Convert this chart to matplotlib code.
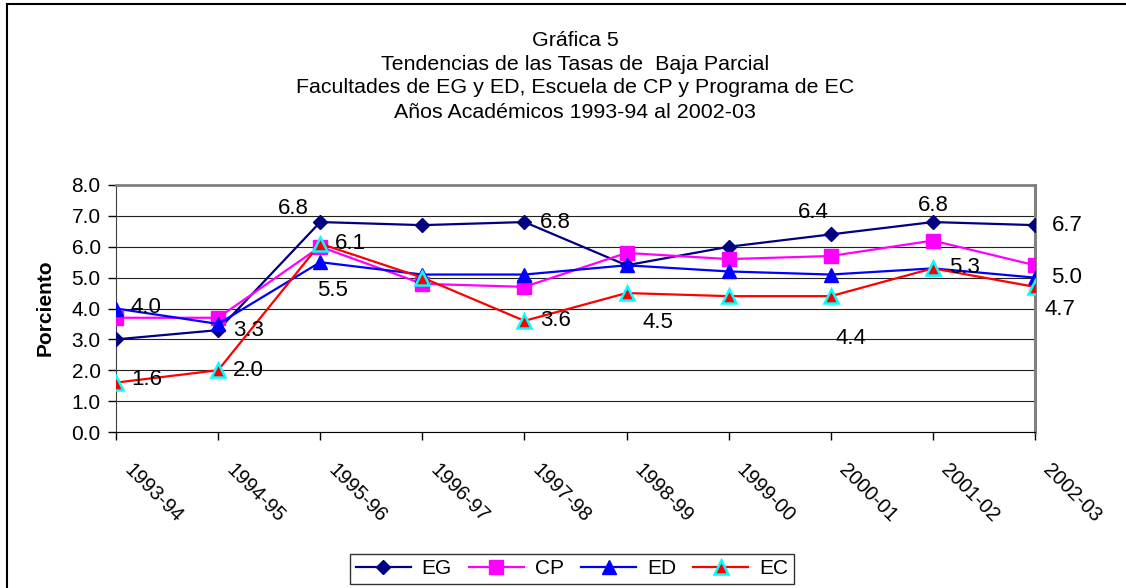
import matplotlib.pyplot as plt
from matplotlib.lines import Line2D
from matplotlib.transforms import ScaledTranslation

plt.rcParams['font.family'] = ['Liberation Sans', 'DejaVu Sans']

years = ['1993-94', '1994-95', '1995-96', '1996-97', '1997-98',
         '1998-99', '1999-00', '2000-01', '2001-02', '2002-03']
eg = [3.0, 3.3, 6.8, 6.7, 6.8, 5.4, 6.0, 6.4, 6.8, 6.7]
cp = [3.7, 3.7, 6.0, 4.8, 4.7, 5.8, 5.6, 5.7, 6.2, 5.4]
ed = [4.0, 3.5, 5.5, 5.1, 5.1, 5.4, 5.2, 5.1, 5.3, 5.0]
ec = [1.6, 2.0, 6.1, 5.0, 3.6, 4.5, 4.4, 4.4, 5.3, 4.7]

# which points carry a value label, and where (offset in pixels)
eg_lab = {1: (30, 0), 2: (-27, 14), 4: (31, 0), 7: (-17, 22), 8: (0, 17), 9: (32, 0)}
ed_lab = {0: (30, 1), 2: (12, -28), 9: (32, 0)}
ec_lab = {0: (31, 3), 1: (30, 0), 2: (30, 0), 4: (31, 0), 5: (31, -29),
          7: (20, -42), 8: (32, 1), 9: (25, -23)}

fig = plt.figure(figsize=(11.26, 5.88), dpi=100)
ax = fig.add_axes([116/1126, 1-432/588, 919/1126, 247/588])
x = list(range(len(years)))

ax.plot(x, eg, color='#000080', lw=1.6, marker='D', ms=7.5, label='EG', zorder=3)
ax.plot(x, cp, color='#FF00FF', lw=1.6, marker='s', ms=10.5, label='CP', zorder=4)
ax.plot(x, ed, color='#0000FF', lw=1.6, marker='^', ms=10, label='ED', zorder=5)
ax.plot(x, ec, color='#FF0000', lw=1.6, marker='^', ms=9.5, mfc='#FF0000',
        mec='#00FFFF', mew=1.8, label='EC', zorder=6)

for vals, labs in [(eg, eg_lab), (ed, ed_lab), (ec, ec_lab)]:
    for i, off in labs.items():
        ax.annotate('%.1f' % vals[i], (x[i], vals[i]), xytext=off,
                    textcoords='offset pixels', ha='center', va='center',
                    fontsize=16, zorder=10)

ax.set_xlim(0, 9)
ax.set_ylim(0, 8)
ax.set_yticks([i for i in range(9)])
ax.set_yticklabels(['%.1f' % i for i in range(9)], fontsize=15)
ax.tick_params(axis='y', length=6, width=1, pad=5)
ax.tick_params(axis='x', length=6, width=1, pad=19)
ax.set_xticks(x)
ax.set_xticklabels(years, fontsize=14.5, rotation=-45, ha='left', va='center',
                   rotation_mode='anchor')
shift = ScaledTranslation(11/100, 0, fig.dpi_scale_trans)
for lab in ax.xaxis.get_majorticklabels():
    lab.set_transform(lab.get_transform() + shift)
ax.yaxis.grid(True, color='#202020', lw=0.8)
ax.set_axisbelow(True)
ax.spines['top'].set_color('#808080')
ax.spines['top'].set_linewidth(2)
ax.spines['right'].set_color('#808080')
ax.spines['right'].set_linewidth(2.2)
ax.spines['left'].set_color('#404040')
ax.spines['bottom'].set_color('#000000')

titles = ['Gráfica 5', 'Tendencias de las Tasas de  Baja Parcial',
          'Facultades de EG y ED, Escuela de CP y Programa de EC',
          'Años Académicos 1993-94 al 2002-03']
for k, t in enumerate(titles):
    fig.text(575/1126, 1-(40+24*k)/588, t, ha='center', va='center', fontsize=15.4)

fig.text(45/1126, 1-308/588, 'Porciento', rotation=90, ha='center', va='center',
         fontsize=15, fontweight='bold')

leg = ax.legend(loc='center', bbox_to_anchor=(572/1126, 1-569/588),
                bbox_transform=fig.transFigure, ncol=4, fontsize=15,
                frameon=True, fancybox=False, handlelength=2.64, numpoints=1,
                columnspacing=0.82, handletextpad=0.53, borderpad=0.25,
                borderaxespad=0)
leg.get_frame().set_edgecolor('black')
leg.get_frame().set_linewidth(1)

fig.add_artist(Line2D([7/1126, 7/1126], [0, 1-4/588], color='black', lw=1.5))
fig.add_artist(Line2D([7/1126, 1], [1-4/588, 1-4/588], color='black', lw=1.5))

fig.savefig('out.png', dpi=100)
